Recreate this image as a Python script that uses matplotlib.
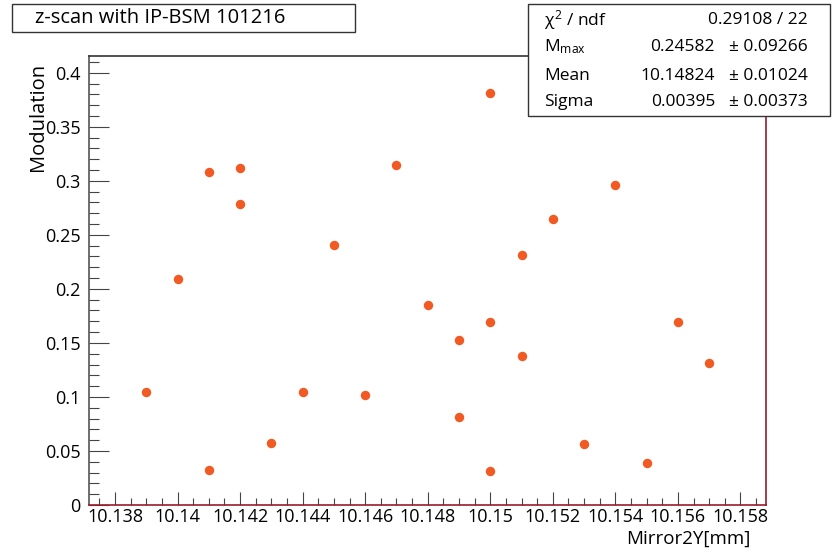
import matplotlib
matplotlib.use('Agg')
import matplotlib.pyplot as plt
from matplotlib.patches import Rectangle
from matplotlib.ticker import MultipleLocator

# z-scan points: mirror position [mm] and measured modulation
mirror_y = [10.139, 10.140, 10.141, 10.141, 10.142, 10.142, 10.143, 10.144,
            10.145, 10.146, 10.147, 10.148, 10.149, 10.149, 10.150, 10.150,
            10.150, 10.151, 10.151, 10.152, 10.153, 10.154, 10.155, 10.156,
            10.157]
modulation = [0.1045, 0.2093, 0.3079, 0.0323, 0.3119, 0.2781, 0.0574, 0.1048,
              0.2409, 0.1014, 0.3144, 0.1854, 0.1528, 0.0812, 0.3811, 0.1696,
              0.0319, 0.2313, 0.1383, 0.2648, 0.0563, 0.2965, 0.0393, 0.1696,
              0.1314]

# fit result box
stat_names = [r'$\chi^{2}$ / ndf', r'M$_{\mathrm{max}}$', 'Mean', 'Sigma']
stat_values = ['0.29108 / 22', '0.24582', '10.14824', '0.00395']
stat_errors = [None, '0.09266', '0.01024', '0.00373']

title = 'z-scan with IP-BSM 101216'

plt.rcParams['font.family'] = ['Open Sans', 'DejaVu Sans']
plt.rcParams['font.weight'] = 500
plt.rcParams['mathtext.fontset'] = 'custom'
plt.rcParams['mathtext.rm'] = 'Open Sans'
plt.rcParams['mathtext.it'] = 'Open Sans'

W, H = 832, 552
fig = plt.figure(figsize=(W / 100, H / 100), dpi=100)
ax = fig.add_axes([89 / W, 1 - 505 / H, (765.5 - 89) / W, (505 - 56) / H])

ax.plot(mirror_y, modulation, 'o', color='#f15a22', markersize=6.8,
        markeredgewidth=0)

ax.set_xlim(10.13717, 10.1588)
ax.set_ylim(0, 0.4155)

ax.xaxis.set_major_locator(MultipleLocator(0.002))
ax.xaxis.set_minor_locator(MultipleLocator(0.0005))
ax.yaxis.set_major_locator(MultipleLocator(0.05))
ax.yaxis.set_minor_locator(MultipleLocator(0.01))

def fmt(v, pos):
    return ('%.3f' % v).rstrip('0').rstrip('.')
ax.xaxis.set_major_formatter(plt.FuncFormatter(fmt))
ax.yaxis.set_major_formatter(plt.FuncFormatter(fmt))

ax.tick_params(axis='x', which='major', direction='in', length=9.4, width=0.8,
               color='#444444', labelsize=13, pad=2, top=False)
ax.tick_params(axis='x', which='minor', direction='in', length=4.7, width=0.8,
               color='#444444', top=False)
ax.tick_params(axis='y', which='major', direction='in', length=14.5, width=0.8,
               color='#444444', labelsize=13, pad=6, right=False)
ax.tick_params(axis='y', which='minor', direction='in', length=7.2, width=0.8,
               color='#444444', right=False)

ax.spines['left'].set_color('#555555')
ax.spines['top'].set_color('#333333')
ax.spines['right'].set_color('#9a1b2c')
ax.spines['bottom'].set_color('#9a1b2c')
for s in ax.spines.values():
    s.set_linewidth(1.2)

ax.set_xlabel('Mirror2Y[mm]', fontsize=13.5, loc='right', labelpad=-3)
ax.xaxis.set_label_coords((750 - 89) / (765.5 - 89), -0.055)
ax.set_ylabel('Modulation', fontsize=14.5, loc='top')
ax.yaxis.set_label_coords(-(89 - 48) / (765.5 - 89), 0.985)

# title box
fig.patches.append(Rectangle((12 / W, 1 - 32 / H), 343 / W, 28 / H,
                             transform=fig.transFigure, facecolor='white',
                             edgecolor='#333333', linewidth=1.0))
fig.text(35 / W, 1 - 18 / H, title, fontsize=14.5, va='center', ha='left')

# statistics box
fig.patches.append(Rectangle((528 / W, 1 - 116 / H), 302 / W, 112 / H,
                             transform=fig.transFigure, facecolor='white',
                             edgecolor='#333333', linewidth=1.0, zorder=5))
row_y = [20, 47, 76, 102]
for name, val, err, y in zip(stat_names, stat_values, stat_errors, row_y):
    fy = 1 - y / H
    fig.text(544 / W, fy, name, fontsize=12.5, va='center', ha='left', zorder=6)
    if err is None:
        fig.text(808 / W, fy, val, fontsize=12.5, va='center', ha='right', zorder=6)
    else:
        fig.text(715 / W, fy, val, fontsize=12.5, va='center', ha='right', zorder=6)
        fig.text(808 / W, fy, '± ' + err, fontsize=12.5, va='center', ha='right',
                 zorder=6)

fig.savefig('out.png', dpi=100)
